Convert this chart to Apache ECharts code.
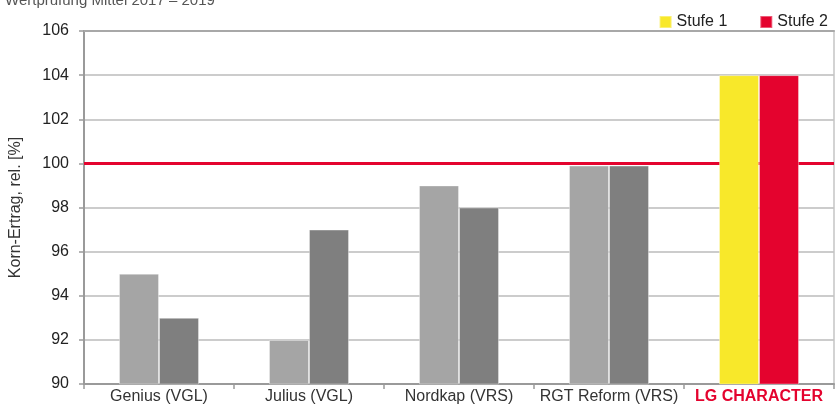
<!DOCTYPE html>
<html>
<head>
<meta charset="utf-8">
<script src="https://cdn.jsdelivr.net/npm/echarts@6/dist/echarts.min.js"></script>
<style>
html,body{margin:0;padding:0;background:#fff;}
#c{width:835px;height:405px;}
</style>
</head>
<body>
<div id="c"></div>
<script>
const categories = ['Genius (VGL)', 'Julius (VGL)', 'Nordkap (VRS)', 'RGT Reform (VRS)', 'LG CHARACTER'];
const stufe1 = [95, 92, 99, 99.9, 104];
const stufe2 = [93, 97, 98, 99.9, 104];
const yTicks = { min: 90, max: 106, interval: 2 };
const refValue = 100;

const FONT = 'Liberation Sans, Arial, sans-serif';
const LIGHT = '#a5a5a5', DARK = '#7f7f7f', YELLOW = '#f8e82a', RED = '#e4032e';
const highlightIdx = categories.length - 1;

const chart = echarts.init(document.getElementById('c'), null, { renderer: 'canvas' });
chart.setOption({
  animation: false,
  backgroundColor: '#fff',
  textStyle: { fontFamily: FONT },
  title: {
    text: 'Wertprüfung Mittel 2017 – 2019',
    left: 0, top: -12,
    textStyle: { fontSize: 15, fontWeight: 'normal', color: '#555', fontFamily: FONT }
  },
  legend: {
    right: 2, top: 9,
    icon: 'rect', itemWidth: 12, itemHeight: 12, itemGap: 32,
    textStyle: { fontSize: 16, color: '#222', fontFamily: FONT },
    data: ['Stufe 1', 'Stufe 2']
  },
  grid: { left: 82, right: 1, top: 31, bottom: 21, containLabel: false },
  xAxis: [{
    type: 'category',
    data: categories.map((c, i) => i === highlightIdx
      ? { value: c, textStyle: { color: RED, fontWeight: 'bold' } }
      : c),
    axisLine: { show: true, lineStyle: { color: '#9a9a9a', width: 2 } },
    axisTick: { show: true, length: 5, lineStyle: { color: '#9a9a9a', width: 1.5 } },
    axisLabel: { fontSize: 16, color: '#333', margin: 5, fontFamily: FONT, interval: 0 }
  }, {
    type: 'category', position: 'top',
    data: categories,
    axisLine: { show: true, lineStyle: { color: '#a8a8a8', width: 2 } },
    axisTick: { show: false }, axisLabel: { show: false }
  }],
  yAxis: [{
    type: 'value',
    min: yTicks.min, max: yTicks.max, interval: yTicks.interval,
    name: 'Korn-Ertrag, rel. [%]',
    nameLocation: 'middle', nameRotate: 90, nameGap: 60,
    nameTextStyle: { fontSize: 16, color: '#333', fontFamily: FONT },
    axisLine: { show: true, lineStyle: { color: '#9a9a9a', width: 2 } },
    axisTick: { show: true, length: 5, lineStyle: { color: '#9a9a9a', width: 1.5 } },
    axisLabel: { fontSize: 16, color: '#222', margin: 15, fontFamily: FONT },
    splitLine: { show: true, lineStyle: { color: '#cccccc', width: 2 } }
  }, {
    type: 'value', position: 'right',
    min: yTicks.min, max: yTicks.max, interval: yTicks.interval,
    axisLine: { show: true, lineStyle: { color: '#c4c4c4', width: 1.5 } },
    axisTick: { show: false }, axisLabel: { show: false }, splitLine: { show: false }
  }],
  series: [{
    name: 'Stufe 1', type: 'bar',
    barWidth: 40, barGap: 0,
    itemStyle: { color: YELLOW, borderColor: 'rgba(255,255,255,0.35)', borderWidth: 1 },
    data: stufe1.map((v, i) => i === highlightIdx ? v : { value: v, itemStyle: { color: LIGHT } }),
    markLine: {
      z: 1, silent: true, symbol: 'none',
      label: { show: false },
      lineStyle: { color: RED, width: 3, type: 'solid' },
      data: [{ yAxis: refValue }]
    }
  }, {
    name: 'Stufe 2', type: 'bar',
    barWidth: 40, barGap: 0,
    itemStyle: { color: RED, borderColor: 'rgba(255,255,255,0.35)', borderWidth: 1 },
    data: stufe2.map((v, i) => i === highlightIdx ? v : { value: v, itemStyle: { color: DARK } })
  }]
});
</script>
</body>
</html>
